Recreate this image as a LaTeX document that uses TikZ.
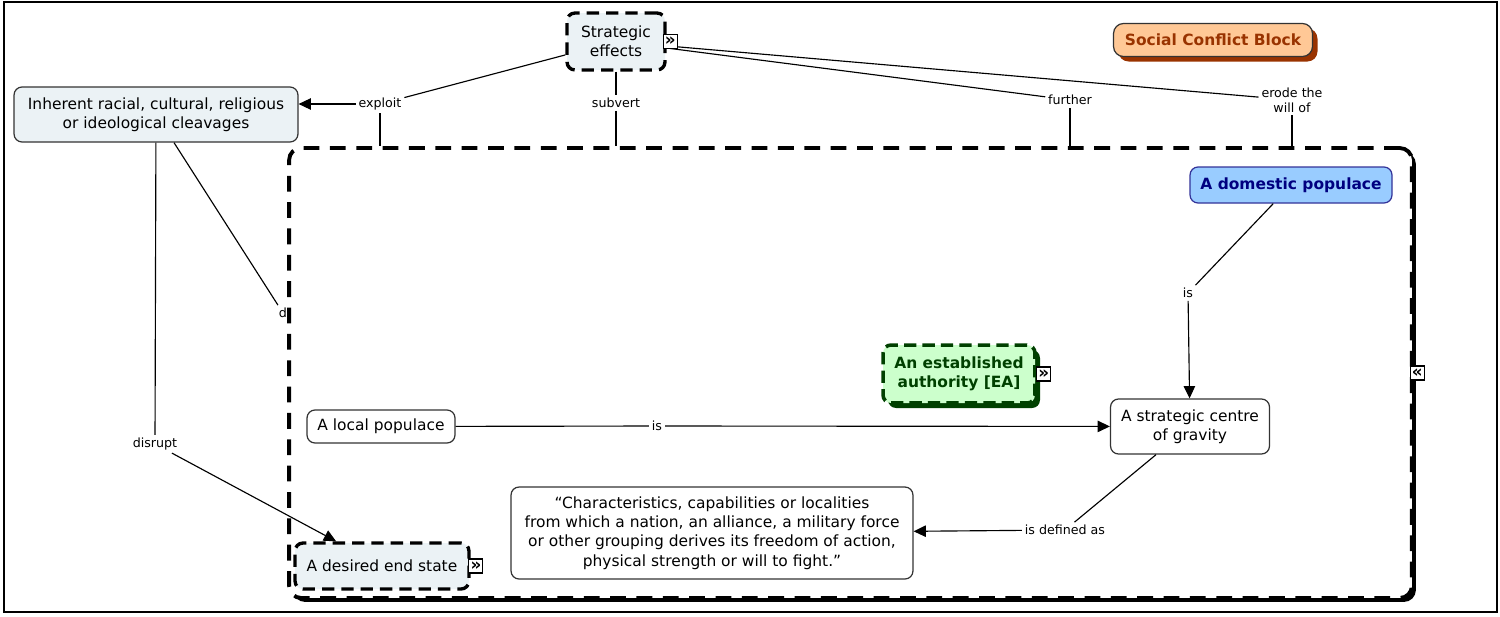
\documentclass[tikz,border=0pt]{standalone}
\usepackage{fontspec}
\setmainfont{DejaVu Sans}
\usetikzlibrary{arrows.meta,shadows}

\definecolor{paleblue}{RGB}{235,242,245}
\definecolor{peach}{RGB}{255,200,150}
\definecolor{rust}{RGB}{153,51,0}
\definecolor{skyfill}{RGB}{153,204,255}
\definecolor{navytext}{RGB}{0,0,128}
\definecolor{mintfill}{RGB}{204,255,204}
\definecolor{darkgreen}{RGB}{0,64,0}

\begin{document}
\begin{tikzpicture}[x=0.02cm, y=-0.02cm,
    concept/.style={draw=black!80, line width=0.7pt, rounded corners=0.16cm,
                    fill=white, align=center, inner sep=0pt,
                    font=\fontsize{8.8}{11}\selectfont},
    nested/.style={concept, fill=paleblue, draw=black, line width=1.9pt,
                   dash pattern=on 7pt off 4pt},
    groupbox/.style={draw, fill=white, line width=2.2pt, dash pattern=on 9pt off 6pt,
                     rounded corners=0.24cm, minimum width=22.46cm, minimum height=9cm,
                     general shadow={fill=black, shadow xshift=0.08cm, shadow yshift=-0.08cm}},
    linkname/.style={inner sep=1.5pt, align=center, font=\fontsize{7.2}{8.6}\selectfont},
    con/.style={line width=0.65pt},
    arr/.style={-{Triangle[length=7pt,width=6.5pt]}, line width=0.65pt},
    icon/.style={draw, fill=white, line width=0.6pt, inner sep=0pt,
                 minimum size=0.28cm, font=\fontsize{9.5}{9.5}\selectfont\bfseries}
  ]
  \useasboundingbox (0,0) rectangle (1500,616);
  \draw[line width=1pt] (4,2) rectangle (1497,612);

  % nested map
  \node[groupbox] (grp) at (850.5,373) {};

  % concepts
  \node[nested, minimum width=1.96cm, minimum height=1.14cm] (strat) at (616,41.5) {Strategic\\effects};
  \node[concept, fill=peach, rounded corners=0.2cm, text=rust,
        font=\fontsize{8.8}{11}\selectfont\bfseries,
        general shadow={fill=rust, shadow xshift=0.1cm, shadow yshift=-0.1cm},
        minimum width=3.98cm, minimum height=0.66cm] (scb) at (1213,40) {Social Conflict Block};
  \node[concept, fill=paleblue, minimum width=5.68cm, minimum height=1.1cm] (inherent) at (156,114.5)
        {Inherent racial, cultural, religious\\or ideological cleavages};
  \node[concept, fill=skyfill, draw=navytext!80, text=navytext,
        font=\fontsize{8.8}{11}\selectfont\bfseries,
        minimum width=4.04cm, minimum height=0.72cm] (dom) at (1291,185) {A domestic populace};
  \node[concept, fill=mintfill, draw=darkgreen, line width=2pt, dash pattern=on 7pt off 3.5pt,
        text=darkgreen, font=\fontsize{8.8}{11}\selectfont\bfseries,
        general shadow={fill=darkgreen, shadow xshift=0.1cm, shadow yshift=-0.1cm},
        minimum width=3.04cm, minimum height=1.16cm] (ea) at (959,374) {An established\\authority [EA]};
  \node[concept, minimum width=3.18cm, minimum height=1.1cm] (cog) at (1190,426.5) {A strategic centre\\of gravity};
  \node[concept, minimum width=2.96cm, minimum height=0.66cm] (local) at (381,426.5) {A local populace};
  \node[concept, minimum width=8.04cm, minimum height=1.84cm] (quote) at (712,533)
        {“Characteristics, capabilities or localities\\from which a nation, an alliance, a military force\\or other grouping derives its freedom of action,\\physical strength or will to fight.”};
  \node[nested, minimum width=3.48cm, minimum height=0.92cm] (desired) at (382,566) {A desired end state};

  % linking phrases
  \node[linkname] (exploit) at (380,104) {exploit};
  \node[linkname] (subvert) at (616,103) {subvert};
  \node[linkname] (further) at (1070,100) {further};
  \node[linkname] (erode) at (1292,100) {erode the\\will of};
  \node[linkname] (isdom) at (1188,293) {is};
  \node[linkname] (islocal) at (657,426) {is};
  \node[linkname] (isdef) at (1065,530) {is defined as};
  \node[linkname] (disrupt) at (155,444) {disrupt};
  \node[linkname] (dlbl) at (283,313) {d};

  % connectors
  \draw[con] (strat) -- (exploit);
  \draw[arr] (exploit) -- (exploit -| inherent.east);
  \draw[con] (exploit) -- (exploit |- grp.north);
  \draw[con] (strat) -- (subvert);
  \draw[con] (subvert) -- (subvert |- grp.north);
  \draw[con] (strat) -- (further);
  \draw[con] (further) -- (further |- grp.north);
  \draw[con] (strat) -- (erode);
  \draw[con] (erode) -- (erode |- grp.north);
  \draw[con] (inherent) -- (disrupt);
  \draw[arr] (disrupt) -- (desired);
  \draw[con] (inherent) -- (dlbl);
  \draw[con] (dom) -- (isdom);
  \draw[arr] (isdom) -- (cog);
  \draw[con] (local) -- (islocal);
  \draw[arr] (islocal) -- (cog);
  \draw[con] (cog) -- (isdef);
  \draw[arr] (isdef) -- (quote);

  % expand markers
  \node[icon, xshift=2pt] (icstrat) at (strat.east) {»};
  \node[icon, xshift=3pt] (icdesired) at (desired.east) {»};
  \node[icon, xshift=4pt] (icea) at (ea.east) {»};
  \node[icon, xshift=2pt] (icgrp) at (grp.east) {«};
\end{tikzpicture}
\end{document}
